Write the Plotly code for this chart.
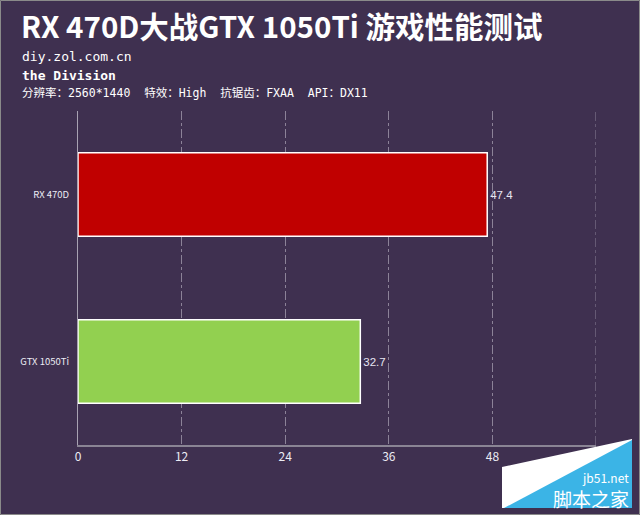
import plotly.graph_objects as go

categories = ["GTX 1050Ti", "RX 470D"]
values = [32.7, 47.4]
bar_colors = ["#92d050", "#c00000"]
tick_vals = [0, 12, 24, 36, 48, 60]
tick_text = ["0", "12", "24", "36", "48", ""]

BG = "#3f3050"
W, H = 640, 515
L, R, T, B = 78, 44, 111, 70
PW, PH = W - L - R, H - T - B
MONO = "DejaVu Sans Mono, Noto Sans CJK SC, monospace"
GRID = "#8c8298"

def px(x):  # pixel -> paper x
    return (x - L) / PW

def py(y):  # pixel -> paper y
    return (H - B - y) / PH

fig = go.Figure()
fig.add_trace(go.Bar(
    y=categories, x=values, orientation="h",
    marker=dict(color=bar_colors, line=dict(color="white", width=1.5)),
    width=0.5,
    text=[f"{v}" for v in values], textposition="outside",
    textfont=dict(color="#e6e6f2", size=11.5, family="Liberation Sans, Arial"),
    cliponaxis=False, hoverinfo="skip",
))

fig.update_layout(
    width=W, height=H, margin=dict(l=L, r=R, t=T, b=B),
    paper_bgcolor=BG, plot_bgcolor=BG, showlegend=False,
    font=dict(family="Noto Sans CJK SC, sans-serif", color="white"),
    xaxis=dict(range=[0, 60], tickvals=tick_vals, ticktext=tick_text,
               showgrid=True, gridcolor=GRID, griddash="dashdot", gridwidth=1,
               zeroline=False, showline=True, linecolor="#8a8494", linewidth=2,
               ticks="", tickfont=dict(size=12, color="#ececf4", family="Noto Sans CJK SC"),
               fixedrange=True),
    yaxis=dict(range=[-0.5, 1.5], showgrid=False, zeroline=False,
               showline=True, linecolor="#a8a2b2", linewidth=1,
               ticks="", ticklabelstandoff=6,
               tickfont=dict(size=9.5, color="#ececf4", family="Noto Sans CJK SC"),
               fixedrange=True),
    bargap=0.5,
)

# gridline at the right end of the range (60)
fig.add_shape(type="line", xref="x", yref="paper", x0=tick_vals[-1], x1=tick_vals[-1],
              y0=0, y1=1, line=dict(color=GRID, width=1, dash="dashdot"), layer="below")

annos = [
    dict(text="<b>RX 470D大战GTX 1050Ti 游戏性能测试</b>", x=px(19), y=py(25), size=29.5,
         fam="Noto Sans CJK SC"),
    dict(text="diy.zol.com.cn", x=px(20), y=py(57), size=13, fam=MONO),
    dict(text="<b>the Division</b>", x=px(20), y=py(75), size=13, fam=MONO),
    dict(text="分辨率：2560*1440  特效：High  抗锯齿：FXAA  API：DX11", x=px(20), y=py(93),
         size=11.5, fam=MONO),
]
for a in annos:
    fig.add_annotation(text=a["text"], x=a["x"], y=a["y"], xref="paper", yref="paper",
                       xanchor="left", yanchor="middle", showarrow=False,
                       font=dict(size=a["size"], color="white", family=a["fam"]))

# watermark corner
fig.add_shape(type="path", xref="paper", yref="paper",
              path=f"M {px(502)} {py(467)} L {px(632)} {py(439)} L {px(632)} {py(508)} L {px(502)} {py(508)} Z",
              fillcolor="white", line=dict(width=0), layer="above")
fig.add_shape(type="path", xref="paper", yref="paper",
              path=f"M {px(504)} {py(508)} L {px(632)} {py(440)} L {px(632)} {py(508)} Z",
              fillcolor="#3bb4e6", line=dict(width=0), layer="above")
fig.add_annotation(text="jb51.net", x=px(631), y=py(477), xref="paper", yref="paper",
                   xanchor="right", yanchor="middle", showarrow=False,
                   font=dict(size=12, color="white", family="Noto Sans CJK SC"))
fig.add_annotation(text="脚本之家", x=px(631), y=py(498), xref="paper", yref="paper",
                   xanchor="right", yanchor="middle", showarrow=False,
                   font=dict(size=19, color="white", family="Noto Sans CJK SC"))

# outer border
fig.add_shape(type="rect", xref="paper", yref="paper",
              x0=px(0.5), x1=px(639.5), y0=py(514.5), y1=py(0.5),
              line=dict(color="#8a8a8a", width=1), fillcolor="rgba(0,0,0,0)", layer="above")

fig.write_html("out.html", config={"displayModeBar": False, "staticPlot": True},
               post_script="document.body.style.margin='0';document.body.style.overflow='hidden';")
